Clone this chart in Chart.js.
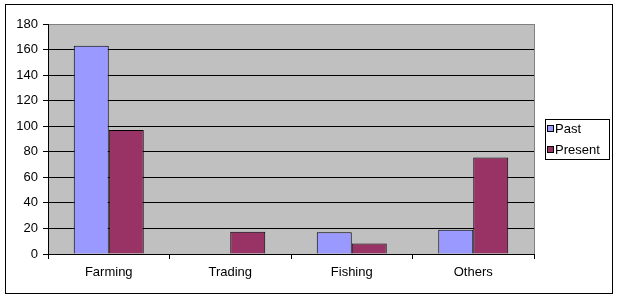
<!DOCTYPE html>
<html>
<head>
<meta charset="utf-8">
<script src="https://cdn.jsdelivr.net/npm/chart.js@4"></script>
<style>
  body { margin: 0; background: #fff; }
  #wrap { width: 618px; height: 298px; }
</style>
</head>
<body>
<div id="wrap"><canvas id="grafico" width="618" height="298"></canvas></div>
<script>
// dados
var categorias = ["Farming", "Trading", "Fishing", "Others"];
var passado = [163, 0, 17, 19];
var presente = [97, 17.5, 8.3, 75.5];
var rotulosSeries = ["Past", "Present"];
var coresSeries = ["#9999FF", "#993366"];
var yMax = 180;
var yPasso = 20;

var fonte = "'Liberation Sans', Arial, sans-serif";

// fundo, moldura externa, area cinza e legenda
var molduraPlugin = {
  id: "moldura",
  beforeDraw: function (chart) {
    var ctx = chart.ctx;
    var a = chart.chartArea;
    ctx.save();
    ctx.fillStyle = "#fff";
    ctx.fillRect(0, 0, chart.width, chart.height);
    ctx.strokeStyle = "#000";
    ctx.lineWidth = 1;
    ctx.strokeRect(5.5, 4.5, 607, 289);
    ctx.fillStyle = "#C0C0C0";
    ctx.fillRect(a.left, a.top, a.right - a.left, a.bottom - a.top);
    ctx.restore();
  },
  afterDraw: function (chart) {
    var ctx = chart.ctx;
    var a = chart.chartArea;
    ctx.save();
    // borda direita cinza da area de plotagem
    ctx.strokeStyle = "#808080";
    ctx.lineWidth = 1;
    ctx.beginPath();
    ctx.moveTo(Math.round(a.right) + 0.5, a.top);
    ctx.lineTo(Math.round(a.right) + 0.5, a.bottom);
    ctx.stroke();

    // legenda
    ctx.strokeStyle = "#000";
    ctx.strokeRect(545.5, 119.5, 64, 40);
    ctx.font = "13px " + fonte;
    ctx.textBaseline = "middle";
    ctx.textAlign = "left";
    for (var i = 0; i < rotulosSeries.length; i++) {
      var cy = 129 + i * 21;
      ctx.fillStyle = coresSeries[i];
      ctx.fillRect(548, cy - 3, 6, 6);
      ctx.strokeStyle = "#000";
      ctx.strokeRect(547.5, cy - 3.5, 6, 6);
      ctx.fillStyle = "#000";
      ctx.fillText(rotulosSeries[i], 555, cy);
    }
    ctx.restore();
  }
};

var ctx = document.getElementById("grafico").getContext("2d");
var myChart = new Chart(ctx, {
  type: "bar",
  data: {
    labels: categorias,
    datasets: [
      {
        label: rotulosSeries[0],
        data: passado,
        backgroundColor: coresSeries[0],
        borderColor: "#000",
        borderWidth: 1,
        barPercentage: 1,
        categoryPercentage: 0.576
      },
      {
        label: rotulosSeries[1],
        data: presente,
        backgroundColor: coresSeries[1],
        borderColor: "#000",
        borderWidth: 1,
        barPercentage: 1,
        categoryPercentage: 0.576
      }
    ]
  },
  options: {
    responsive: false,
    animation: false,
    devicePixelRatio: 1,
    layout: { padding: { top: 24, right: 84, left: 0, bottom: 0 } },
    plugins: {
      legend: { display: false },
      tooltip: { enabled: false }
    },
    scales: {
      x: {
        afterFit: function (s) { s.height = 44; },
        grid: {
          drawOnChartArea: false,
          drawTicks: true,
          tickLength: 5,
          tickColor: "#000",
          color: "#000"
        },
        border: { color: "#000", width: 1 },
        ticks: {
          color: "#000",
          padding: 6,
          font: { family: fonte, size: 13 }
        }
      },
      y: {
        min: 0,
        max: yMax,
        afterFit: function (s) { s.width = 48; },
        grid: {
          color: function (c) {
            return c.tick && c.tick.value === yMax ? "#808080" : "#000";
          },
          tickColor: "#000",
          tickLength: 5,
          lineWidth: 1
        },
        border: { color: "#000", width: 1 },
        ticks: {
          stepSize: yPasso,
          color: "#000",
          padding: 5,
          font: { family: fonte, size: 13 }
        }
      }
    }
  },
  plugins: [molduraPlugin]
});
</script>
</body>
</html>
